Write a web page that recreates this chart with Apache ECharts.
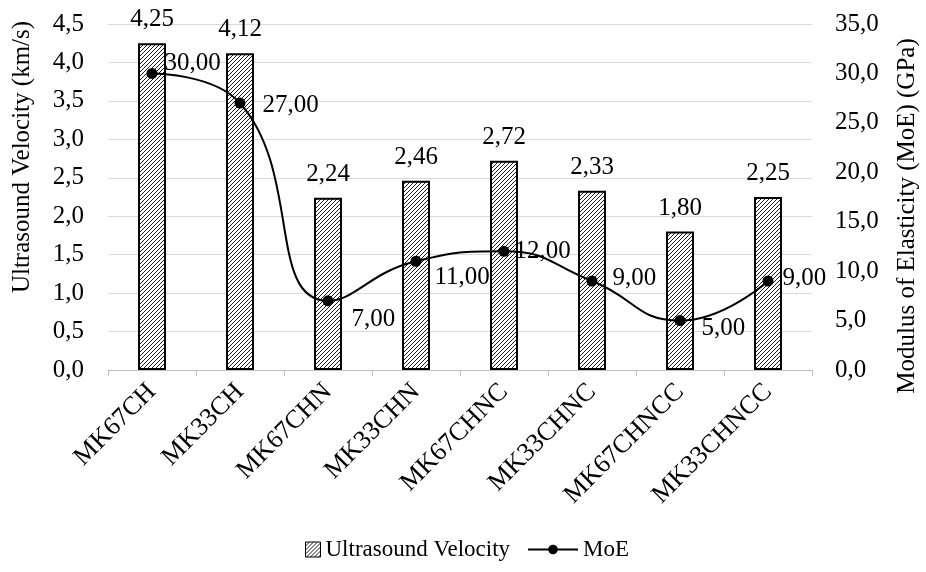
<!DOCTYPE html>
<html><head><meta charset="utf-8">
<script src="https://cdn.jsdelivr.net/npm/echarts@6/dist/echarts.min.js"></script>
<style>html,body{margin:0;padding:0;background:#fff}#c{width:926px;height:572px}</style>
</head><body><div id="c"></div>
<script>
const categories = ['MK67CH','MK33CH','MK67CHN','MK33CHN','MK67CHNC','MK33CHNC','MK67CHNCC','MK33CHNCC'];
const velocity = [4.25,4.12,2.24,2.46,2.72,2.33,1.80,2.25];
const moe = [30,27,7,11,12,9,5,9];
const leftTicks = {min:0,max:4.5,interval:0.5};
const rightTicks = {min:0,max:35,interval:5};
const leftTitle = 'Ultrasound Velocity (km/s)';
const rightTitle = 'Modulus of Elasticity (MoE) (GPa)';

function hatch(){
  const c=document.createElement('canvas');c.width=4;c.height=4;
  const g=c.getContext('2d');g.fillStyle='#fff';g.fillRect(0,0,4,4);
  g.strokeStyle='#000';g.lineWidth=0.9;
  g.beginPath();g.moveTo(-1,5);g.lineTo(5,-1);g.moveTo(-1,1);g.lineTo(1,-1);g.moveTo(3,5);g.lineTo(5,3);g.stroke();
  return c;
}
const pat={image:hatch(),repeat:'repeat'};
const F='"Liberation Serif", "Times New Roman", serif';
const FS=25;
const comma=(v,d)=>Number(v).toFixed(d).replace('.',',');
const lblOff=[[2,-10],[12,2],[13,19],[8,16],[0,0],[10,-3],[11,8],[4,-3]];
const chart=echarts.init(document.getElementById('c'),null,{renderer:'canvas'});
chart.setOption({
  animation:false,
  textStyle:{fontFamily:F},
  grid:{left:108,right:114,top:24,bottom:202},
  legend:[
    {left:300,bottom:6,itemWidth:15,itemHeight:15,
     textStyle:{fontFamily:F,fontSize:23,color:'#000'},
     data:[{name:'Ultrasound Velocity',icon:'rect',itemStyle:{color:pat,borderColor:'#000',borderWidth:1}}]},
    {left:522,bottom:6,itemWidth:50,itemHeight:12,
     textStyle:{fontFamily:F,fontSize:23,color:'#000'},
     data:[{name:'MoE'}]}
  ],
  xAxis:{type:'category',data:categories,
    axisLine:{lineStyle:{color:'#bfbfbf',width:1}},
    axisTick:{show:true,length:6,lineStyle:{color:'#bfbfbf'}},
    axisLabel:{rotate:45,fontSize:26,color:'#000',fontFamily:F,margin:18,interval:0}},
  yAxis:[
    {type:'value',min:leftTicks.min,max:leftTicks.max,interval:leftTicks.interval,
     axisLine:{show:false},axisTick:{show:false},
     axisLabel:{fontSize:FS,color:'#000',fontFamily:F,margin:24,formatter:v=>comma(v,1)},
     splitLine:{lineStyle:{color:'#d9d9d9',width:1}}},
    {type:'value',min:rightTicks.min,max:rightTicks.max,interval:rightTicks.interval,position:'right',
     axisLine:{show:false},axisTick:{show:false},
     axisLabel:{fontSize:FS,color:'#000',fontFamily:F,margin:23,formatter:v=>comma(v,1)},
     splitLine:{show:false}}
  ],
  series:[
    {name:'Ultrasound Velocity',type:'bar',yAxisIndex:0,barWidth:28,data:velocity,
     itemStyle:{color:pat,borderColor:'#000',borderWidth:2},
     label:{show:true,position:'top',distance:11,fontSize:FS,color:'#000',fontFamily:F,formatter:p=>comma(p.value,2)}},
    {name:'MoE',type:'line',yAxisIndex:1,smooth:0.5,symbol:'circle',symbolSize:11,
     lineStyle:{color:'#000',width:2},itemStyle:{color:'#000'},z:5,
     data:moe.map((v,i)=>({value:v,label:{show:true,position:'right',offset:lblOff[i],fontSize:FS,color:'#000',fontFamily:F,formatter:p=>comma(p.value,2)}}))}
  ],
  graphic:[
    {id:'lt',type:'text',x:22,y:157,rotation:Math.PI/2,silent:true,
     style:{text:leftTitle,font:FS+'px '+F,fill:'#000',align:'center',verticalAlign:'middle'}},
    {id:'rt',type:'text',x:907,y:216,rotation:Math.PI/2,silent:true,
     style:{text:rightTitle,font:FS+'px '+F,fill:'#000',align:'center',verticalAlign:'middle'}}
  ]
});
</script></body></html>
